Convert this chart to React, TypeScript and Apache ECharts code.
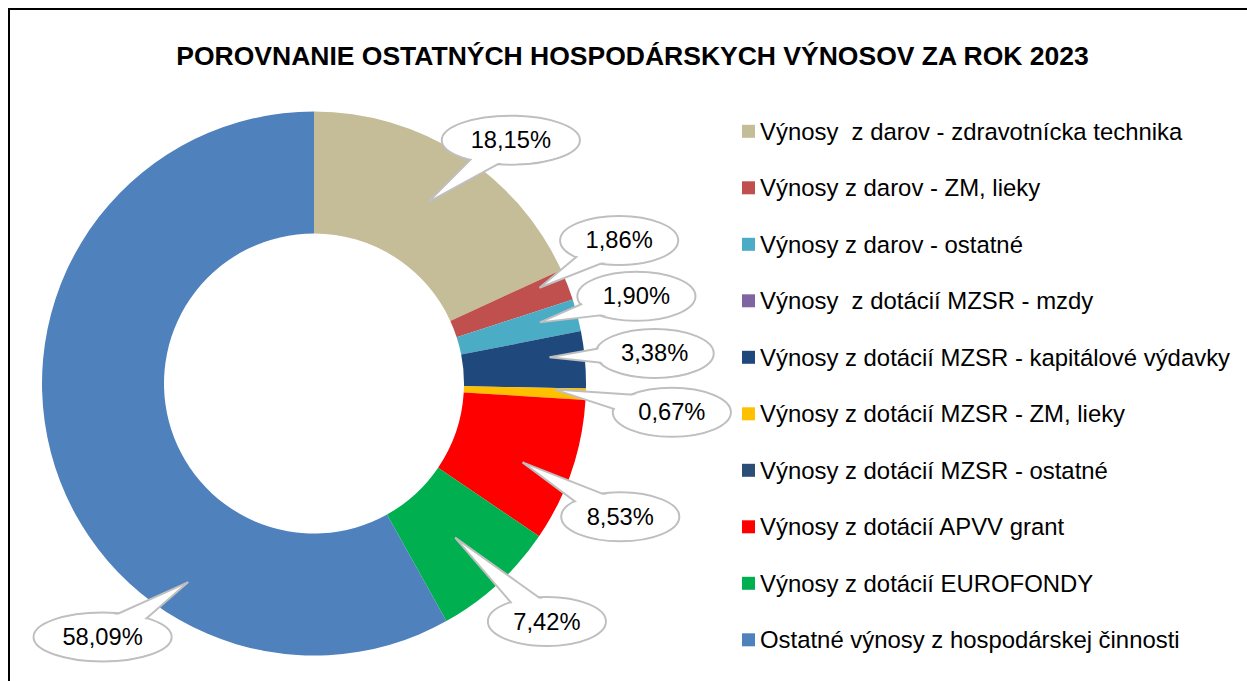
import React, { useEffect, useRef } from "react";
import * as echarts from "echarts";

const TITLE = "POROVNANIE OSTATNÝCH HOSPODÁRSKYCH VÝNOSOV ZA ROK 2023";

const CATEGORIES = [
  "Výnosy  z darov - zdravotnícka technika",
  "Výnosy z darov - ZM, lieky",
  "Výnosy z darov - ostatné",
  "Výnosy  z dotácií MZSR - mzdy",
  "Výnosy z dotácií MZSR - kapitálové výdavky",
  "Výnosy z dotácií MZSR - ZM, lieky",
  "Výnosy z dotácií MZSR - ostatné",
  "Výnosy z dotácií APVV grant",
  "Výnosy z dotácií EUROFONDY",
  "Ostatné výnosy z hospodárskej činnosti",
];

const VALUES = [18.15, 1.86, 1.9, 0, 3.38, 0.67, 0, 8.53, 7.42, 58.09];

const COLORS = [
  "#C4BD97",
  "#C0504D",
  "#4BACC6",
  "#8064A2",
  "#1F497D",
  "#FFC000",
  "#2C4D75",
  "#FF0000",
  "#00B050",
  "#4F81BD",
];

const LABELS = VALUES.map((v) => v.toFixed(2).replace(".", ",") + "%");

// callout placement (angle shift in degrees, distance from centre) – layout only
const CALLOUT_LAYOUT: any[] = [
  { dA: 6.3, r: 313, tipDA: -0.5, tipR: 214 },
  { dA: -3.8, r: 337, tipDA: -1.7, tipR: 245 },
  { dA: -0.6, r: 334, tipDA: -0.6, tipR: 234 },
  null,
  { dA: 0, r: 342, tipDA: -1.3, tipR: 237 },
  { dA: 2.35, r: 359, tipDA: -0.8, tipR: 241 },
  null,
  { dA: 4.7, r: 334, tipDA: 1.9, tipR: 223 },
  { dA: -1.9, r: 333, tipDA: 0, tipR: 209 },
  { dA: -35.6, r: 330, tipDA: -43.1, tipR: 235 },
];

const CX = 304;
const CY = 373.5;
const FONT = "'Liberation Sans', Arial, sans-serif";
const LABEL_SIZE = 23.7;

let measureCtx: CanvasRenderingContext2D | null = null;
function measure(text: string): number {
  if (!measureCtx) {
    const c = document.createElement("canvas");
    measureCtx = c.getContext("2d");
  }
  if (!measureCtx) return text.length * LABEL_SIZE * 0.55;
  measureCtx.font = `${LABEL_SIZE}px ${FONT}`;
  return measureCtx.measureText(text).width;
}

export default function App() {
  const ref = useRef<HTMLDivElement>(null);

  useEffect(() => {
    if (!ref.current) return;
    const chart = echarts.init(ref.current, undefined, { renderer: "svg" });
    const total = VALUES.reduce((a, b) => a + b, 0);

    const toXY = (deg: number, r: number) => {
      const a = (deg * Math.PI) / 180;
      return [CX + r * Math.sin(a), CY - r * Math.cos(a)];
    };

    chart.setOption({
      animation: false,
      backgroundColor: "#ffffff",
      color: COLORS,
      title: {
        text: TITLE,
        left: 622.5,
        top: 32.5,
        textAlign: "center",
        padding: 0,
        textStyle: {
          fontFamily: FONT,
          fontSize: 26.5,
          fontWeight: "bold",
          color: "#000000",
          lineHeight: 27,
        },
      },
      legend: {
        orient: "vertical",
        left: 732,
        top: 109.3,
        padding: 0,
        itemWidth: 13,
        itemHeight: 13,
        itemGap: 32.5,
        icon: "rect",
        data: CATEGORIES,
        selectedMode: false,
        textStyle: {
          fontFamily: FONT,
          fontSize: 23.9,
          color: "#000000",
          lineHeight: 24,
        },
      },
      series: [
        {
          type: "pie",
          name: "výnosy",
          center: [CX, CY],
          radius: [150, 272],
          startAngle: 90,
          clockwise: true,
          avoidLabelOverlap: false,
          label: { show: false },
          labelLine: { show: false },
          emphasis: { disabled: true },
          itemStyle: { borderWidth: 0 },
          data: CATEGORIES.map((name, i) => ({
            name,
            value: VALUES[i],
            itemStyle: { color: COLORS[i] },
          })),
        },
        {
          type: "custom",
          name: "callouts",
          coordinateSystem: "none",
          silent: true,
          z: 10,
          data: VALUES,
          renderItem: (params: any) => {
            const i = params.dataIndex;
            const v = VALUES[i];
            const lay = CALLOUT_LAYOUT[i];
            if (!v || !lay) return { type: "group", children: [] };
            let cum = 0;
            for (let k = 0; k < i; k++) cum += VALUES[k];
            const mid = ((cum + v / 2) / total) * 360;
            const [bx, by] = toXY(mid + lay.dA, lay.r);
            const [tx, ty] = toXY(mid + lay.tipDA, lay.tipR);
            const text = LABELS[i];
            const w = measure(text);
            const rx = 0.76 * w + 8;
            const ry = 24.5;
            const dx = tx - bx;
            const dy = ty - by;
            const len = Math.hypot(dx, dy) || 1;
            const hw = 15;
            const px = (-dy / len) * hw;
            const py = (dx / len) * hw;
            return {
              type: "group",
              children: [
                {
                  type: "ellipse",
                  shape: { cx: bx, cy: by, rx, ry },
                  style: { fill: "#ffffff", stroke: "#BFBFBF", lineWidth: 2 },
                },
                {
                  type: "polygon",
                  shape: {
                    points: [
                      [bx + px, by + py],
                      [tx, ty],
                      [bx - px, by - py],
                    ],
                  },
                  style: { fill: "#ffffff", stroke: "#BFBFBF", lineWidth: 2 },
                },
                {
                  type: "ellipse",
                  shape: { cx: bx, cy: by, rx: rx - 1.5, ry: ry - 1.5 },
                  style: { fill: "#ffffff" },
                },
                {
                  type: "text",
                  style: {
                    text,
                    x: bx,
                    y: by,
                    fill: "#000000",
                    font: `${LABEL_SIZE}px ${FONT}`,
                    align: "center",
                    verticalAlign: "middle",
                  },
                },
              ],
            };
          },
        },
      ],
    });

    return () => {
      chart.dispose();
    };
  }, []);

  return (
    <div
      style={{
        position: "fixed",
        left: 8,
        top: 8,
        width: 1239,
        height: 673,
        boxSizing: "border-box",
        borderTop: "2px solid #000",
        borderLeft: "2px solid #000",
        background: "#fff",
        overflow: "hidden",
      }}
    >
      <div ref={ref} style={{ width: 1237, height: 671 }} />
    </div>
  );
}
